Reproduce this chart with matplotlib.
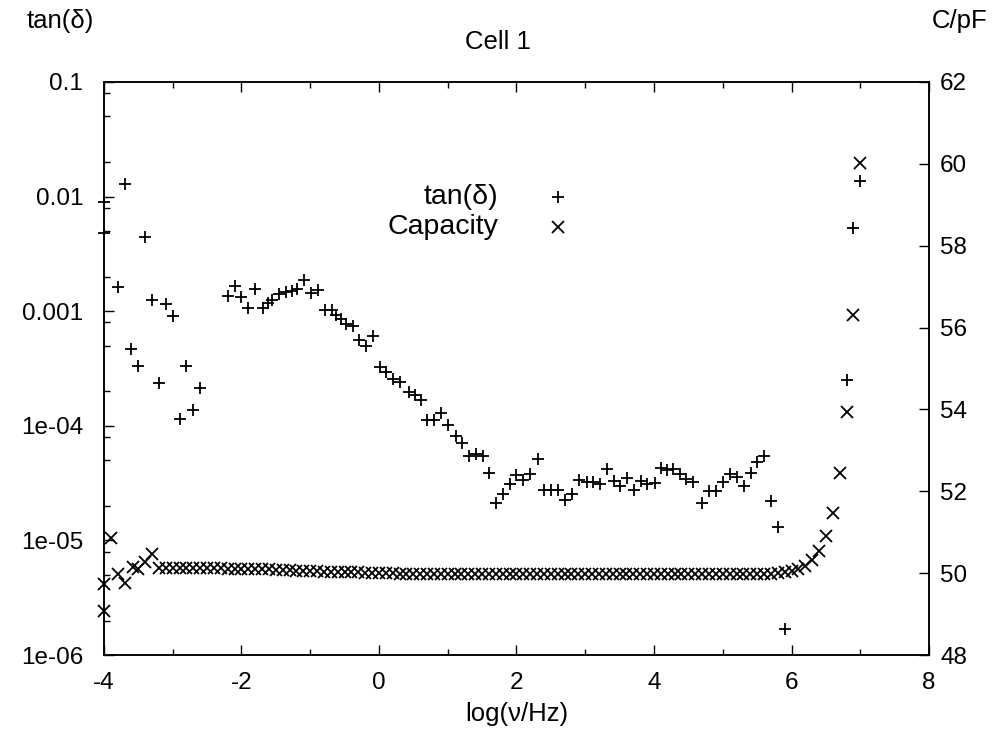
import numpy as np
import matplotlib
matplotlib.use('Agg')
import matplotlib.pyplot as plt
from matplotlib.lines import Line2D
from matplotlib.ticker import LogLocator, MultipleLocator, FixedLocator, NullFormatter

plt.rcParams['font.family'] = ['Liberation Sans', 'DejaVu Sans']
plt.rcParams['axes.unicode_minus'] = False

# tan(delta) points (log10 of frequency, value)
tan_x = [-4.0, -4.0, -3.8, -3.7, -3.6, -3.5, -3.4, -3.3, -3.2, -3.1, -3.0, -2.9, -2.8, -2.7, -2.6,
         -2.2, -2.1, -2.0, -1.9, -1.8, -1.69, -1.62, -1.55, -1.45, -1.35, -1.27, -1.19, -1.09,
         -0.99, -0.89, -0.79, -0.69, -0.62, -0.55, -0.48, -0.38, -0.29, -0.19, -0.09,
         0.01, 0.10, 0.21, 0.31, 0.43, 0.52, 0.61, 0.70, 0.80, 0.90, 1.01, 1.12, 1.21, 1.31,
         1.41, 1.51, 1.60, 1.70, 1.81, 1.91, 2.00, 2.10, 2.20, 2.31, 2.40, 2.50, 2.61, 2.71,
         2.81, 2.91, 3.02, 3.12, 3.21, 3.31, 3.42, 3.51, 3.61, 3.71, 3.81, 3.90, 4.01, 4.10,
         4.19, 4.28, 4.38, 4.47, 4.57, 4.70, 4.80, 4.90, 5.01, 5.10, 5.20, 5.31, 5.41, 5.50,
         5.60, 5.70, 5.80, 5.90, 6.80, 6.90, 7.00]
tan_y = [8.9e-3, 4.8e-3, 1.63e-3, 1.30e-2, 4.7e-4, 3.3e-4, 4.4e-3, 1.25e-3, 2.34e-4, 1.15e-3,
         9.0e-4, 1.15e-4, 3.3e-4, 1.38e-4, 2.14e-4,
         1.37e-3, 1.67e-3, 1.33e-3, 1.07e-3, 1.56e-3, 1.06e-3, 1.17e-3, 1.26e-3, 1.41e-3,
         1.47e-3, 1.50e-3, 1.55e-3, 1.89e-3,
         1.43e-3, 1.52e-3, 1.03e-3, 1.03e-3, 9.2e-4, 8.5e-4, 7.8e-4, 7.4e-4, 5.6e-4, 5.0e-4, 6.1e-4,
         3.25e-4, 2.93e-4, 2.55e-4, 2.41e-4, 1.97e-4, 1.85e-4, 1.67e-4, 1.13e-4, 1.12e-4, 1.29e-4,
         1.02e-4, 8.1e-5, 7.1e-5, 5.4e-5,
         5.7e-5, 5.5e-5, 3.9e-5, 2.1e-5, 2.56e-5, 3.13e-5, 3.7e-5, 3.4e-5, 3.8e-5, 5.1e-5,
         2.75e-5, 2.75e-5, 2.75e-5, 2.24e-5,
         2.56e-5, 3.34e-5, 3.23e-5, 3.23e-5, 3.13e-5, 4.2e-5, 3.3e-5, 2.96e-5, 3.5e-5, 2.75e-5,
         3.27e-5, 3.13e-5, 3.18e-5, 4.3e-5,
         4.1e-5, 4.2e-5, 3.8e-5, 3.45e-5, 3.23e-5, 2.12e-5, 2.7e-5, 2.7e-5, 3.23e-5, 3.8e-5,
         3.6e-5, 2.96e-5, 3.9e-5, 4.8e-5,
         5.4e-5, 2.2e-5, 1.3e-5, 1.67e-6, 2.49e-4, 5.27e-3, 1.374e-2]

# capacity in pF
cap_x_start = [-4.0, -4.0, -3.9, -3.79, -3.69, -3.58, -3.5, -3.4, -3.3]
cap_y_start = [49.08, 49.73, 50.86, 49.98, 49.77, 50.15, 50.11, 50.28, 50.46]
cap_x_sweep = np.round(np.arange(-32, 71) / 10, 1)   # -3.2 ... 7.0
cap_y_sweep = [
    50.12, 50.12, 50.13, 50.12, 50.12, 50.13, 50.13, 50.12, 50.12, 50.12,   # -3.2 .. -2.3
    50.11, 50.11, 50.11, 50.10, 50.10, 50.10, 50.09,                        # -2.2 .. -1.6
    50.08, 50.07, 50.07, 50.06, 50.06, 50.05, 50.05, 50.04, 50.04, 50.03, 50.03,  # -1.5 .. -0.5
    50.02, 50.02, 50.01, 50.01, 50.00, 50.00, 50.00, 49.99, 49.99, 49.99,   # -0.4 .. 0.5
    49.98, 49.98, 49.98, 49.98, 49.98, 49.98, 49.98, 49.98, 49.98, 49.98,   # 0.6 .. 1.5
    49.98, 49.98, 49.98, 49.98, 49.98, 49.98, 49.98, 49.98, 49.98, 49.98,   # 1.6 .. 2.5
    49.98, 49.98, 49.98, 49.98, 49.98, 49.98, 49.98, 49.98, 49.98, 49.98,   # 2.6 .. 3.5
    49.98, 49.98, 49.98, 49.98, 49.98, 49.98, 49.98, 49.98, 49.98, 49.98,   # 3.6 .. 4.5
    49.98, 49.98, 49.98, 49.98, 49.98, 49.98, 49.98, 49.98, 49.99, 49.99,   # 4.6 .. 5.5
    49.99, 49.99, 50.00, 50.02, 50.05, 50.10, 50.18, 50.31, 50.53, 50.90,   # 5.6 .. 6.5
    51.48, 52.45, 53.93, 56.30, 60.03]                                      # 6.6 .. 7.0

ylog_ticks = [1e-6, 1e-5, 1e-4, 1e-3, 1e-2, 1e-1]
ylog_labels = ['1e-06', '1e-05', '1e-04', '0.001', '0.01', '0.1']
cap_ticks = [48, 50, 52, 54, 56, 58, 60, 62]

FS = 17.5      # tick labels
FS_LAB = 18.5  # axis titles
FS_KEY = 20.5  # key

fig = plt.figure(figsize=(9.97, 7.44), dpi=100)
ax = fig.add_axes([0.1043, 0.1196, 0.8275, 0.7702])
ax2 = ax.twinx()

ax.plot(tan_x, tan_y, linestyle='none', marker='+', color='black', markersize=9, mew=1.3,
        clip_on=False)
ax2.plot(cap_x_start + list(cap_x_sweep), cap_y_start + cap_y_sweep, linestyle='none',
         marker='x', color='black', markersize=9, mew=1.3, clip_on=False)

ax.set_xlim(-4, 8)
ax.set_yscale('log')
ax.set_ylim(1e-6, 0.1)
ax2.set_ylim(48, 62)

ax.xaxis.set_major_locator(MultipleLocator(2))
ax.xaxis.set_minor_locator(MultipleLocator(1))
ax.yaxis.set_major_locator(FixedLocator(ylog_ticks))
ax.set_yticklabels(ylog_labels)
ax.yaxis.set_minor_locator(LogLocator(base=10, subs=[2, 5, 8]))
ax.yaxis.set_minor_formatter(NullFormatter())
ax2.yaxis.set_major_locator(FixedLocator(cap_ticks))

ax.tick_params(axis='both', which='both', direction='in', top=True, right=False,
               labelsize=FS, width=1.0)
ax.tick_params(axis='both', which='major', length=7)
ax.tick_params(axis='both', which='minor', length=4)
ax.tick_params(axis='y', pad=15)
ax.tick_params(axis='x', pad=12)
ax2.tick_params(axis='y', which='both', direction='in', length=7, width=1.0,
                labelsize=FS, pad=8)
for a in (ax, ax2):
    for s in a.spines.values():
        s.set_linewidth(1.1)

ax.set_xlabel('log(ν/Hz)', fontsize=FS_LAB, labelpad=6)
fig.text(0.06, 0.972, 'tan(δ)', fontsize=FS_LAB, ha='center', va='center')
fig.text(0.963, 0.972, 'C/pF', fontsize=FS_LAB, ha='center', va='center')
fig.text(0.4995, 0.9435, 'Cell 1', fontsize=FS_LAB, ha='center', va='center')

# key, gnuplot style: right aligned text, sample to the right
fig.text(0.4995, 0.7352, 'tan(δ)', fontsize=FS_KEY, ha='right', va='center')
fig.text(0.4995, 0.6949, 'Capacity', fontsize=FS_KEY, ha='right', va='center')
fig.add_artist(Line2D([0.5597], [0.7352], transform=fig.transFigure, marker='+',
                      color='black', markersize=9, mew=1.3, linestyle='none'))
fig.add_artist(Line2D([0.5597], [0.6949], transform=fig.transFigure, marker='x',
                      color='black', markersize=9, mew=1.3, linestyle='none'))

fig.savefig('out.png', dpi=100)
